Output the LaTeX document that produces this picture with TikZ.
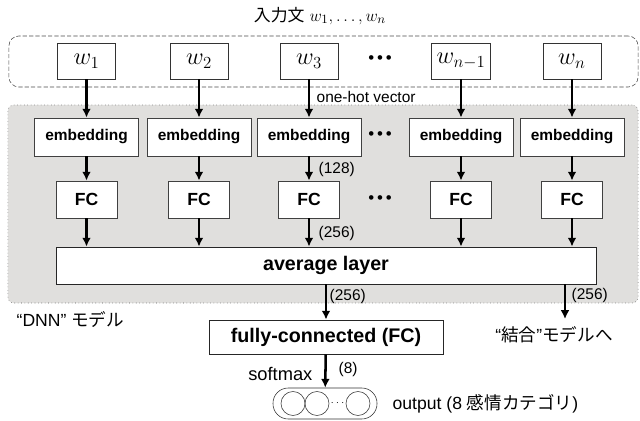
\documentclass[tikz,border=0pt]{standalone}
\usepackage{fontspec}
\setmainfont{Liberation Sans}
\newfontfamily\jpfont{Noto Sans CJK JP}
\usetikzlibrary{arrows.meta}

\definecolor{panelgray}{RGB}{224,223,221}

\begin{document}
\begin{tikzpicture}[
		x=0.025cm, y=-0.025cm,
		wordbox/.style={
			rectangle,
			draw=black!80,
			fill=white,
			semithick,
			minimum width=1.45cm,
			minimum height=0.9cm,
			font=\fontsize{17}{19}\selectfont
		},
		embbox/.style={
			rectangle,
			draw=black!75,
			fill=white,
			semithick,
			minimum width=2.6cm,
			minimum height=0.95cm,
			font=\bfseries\fontsize{11}{13}\selectfont
		},
		fcbox/.style={
			rectangle,
			draw=black!75,
			fill=white,
			semithick,
			minimum width=1.525cm,
			minimum height=0.925cm,
			font=\bfseries\fontsize{12.5}{14}\selectfont
		},
		layerbox/.style={
			rectangle,
			draw=black!85,
			fill=white,
			semithick,
			font=\bfseries\fontsize{14}{16}\selectfont
		},
		dims/.style={
			anchor=west,
			inner sep=1pt,
			font=\fontsize{11}{13}\selectfont
		},
		note/.style={
			inner sep=1pt,
			font=\fontsize{12.5}{14}\selectfont
		},
		unit/.style={
			circle,
			draw=black!80,
			minimum size=0.6cm,
			inner sep=0pt
		},
		arrow/.style={
			-{Latex[length=2.2mm,width=2.2mm]},
			line width=1.8pt
		}
		]
		
		% background frames
		\node[
		rectangle,
		draw=black!65,
		dotted,
		fill=panelgray,
		rounded corners=0.15cm,
		minimum width=15.75cm,
		minimum height=4.95cm
		] (dnn) at (323,204) {};
		
		\node[
		rectangle,
		draw=black!70,
		dash pattern=on 3pt off 1.5pt,
		fill=white,
		rounded corners=0.25cm,
		minimum width=15.725cm,
		minimum height=1.275cm
		] (inputs) at (323.5,61.5) {};
		
		\node[font=\fontsize{13}{15}\selectfont] (title) at (320,16) {{\jpfont\fontsize{12}{14}\selectfont 入力文} $w_1,\ldots,w_n$};
		
		% input words
		\node[wordbox] (w1) at (86.5,61) {$w_1$};
		\node[wordbox] (w2) at (199,61) {$w_2$};
		\node[wordbox] (w3) at (309,61) {$w_3$};
		\node[wordbox] (wn1) at (461,61) {$w_{n-1}$};
		\node[wordbox] (wn) at (572,61) {$w_n$};
		
		% embeddings
		\node[embbox] (emb1) at (86.5,137) {embedding};
		\node[embbox] (emb2) at (199,137) {embedding};
		\node[embbox] (emb3) at (309,137) {embedding};
		\node[embbox] (emb4) at (461,137) {embedding};
		\node[embbox] (emb5) at (572,137) {embedding};
		
		% per-word FC
		\node[fcbox] (fc1) at (86.5,199.5) {FC};
		\node[fcbox] (fc2) at (199,199.5) {FC};
		\node[fcbox] (fc3) at (309,199.5) {FC};
		\node[fcbox] (fc4) at (461,199.5) {FC};
		\node[fcbox] (fc5) at (572,199.5) {FC};
		
		\node[font=\fontsize{12}{14}\selectfont] (dotsw) at (380,60) {•\hspace{2pt}•\hspace{2pt}•};
		\node[font=\fontsize{12}{14}\selectfont] (dotse) at (380,136) {•\hspace{2pt}•\hspace{2pt}•};
		\node[font=\fontsize{12}{14}\selectfont] (dotsf) at (380,200) {•\hspace{2pt}•\hspace{2pt}•};
		
		\node[layerbox, minimum width=13.5cm, minimum height=0.925cm] (avg) at (326,265.5) {average layer};
		
		\node[layerbox, minimum width=5.85cm, minimum height=0.85cm] (fcout) at (326,337) {fully-connected (FC)};
		
		% output units
		\node[
		rectangle,
		draw=black!80,
		rounded corners=0.38cm,
		minimum width=2.6cm,
		minimum height=0.775cm
		] (out) at (325,403.5) {};
		\node[unit] (u1) at (293,403.5) {};
		\node[unit] (u2) at (317,403.5) {};
		\node[unit] (u3) at (358,403.5) {};
		\node[inner sep=0pt, font=\fontsize{7}{8}\selectfont] (udots) at (337.5,403) {$\cdots$};
		
		\coordinate (tojoint) at (565,319);
		
		% labels
		\node[dims] (onehot) at (315,97) {one-hot vector};
		\node[dims] (d128) at (317,169) {(128)};
		\node[dims] (d256) at (317,233) {(256)};
		\node[dims] (d256b) at (328,296) {(256)};
		\node[dims] (d256c) at (570,295) {(256)};
		\node[dims] (d8) at (337,369) {(8)};
		\node[note, anchor=east, font=\fontsize{13}{15}\selectfont] (softmax) at (314,374) {softmax};
		\node[note, anchor=west] (outlabel) at (391,404) {output (8 {\jpfont 感情カテゴリ})};
		\node[note, anchor=west] (dnnlabel) at (15,320) {“DNN” {\jpfont モデル}};
		\node[note] (jointlabel) at (554,335) {“{\jpfont 結合}”{\jpfont モデルへ}};
		
		% connectors
		\draw[arrow] (w1) -- (emb1);
		\draw[arrow] (w2) -- (emb2);
		\draw[arrow] (w3) -- (emb3);
		\draw[arrow] (wn1) -- (emb4);
		\draw[arrow] (wn) -- (emb5);
		
		\draw[arrow] (emb1) -- (fc1);
		\draw[arrow] (emb2) -- (fc2);
		\draw[arrow] (emb3) -- (fc3);
		\draw[arrow] (emb4) -- (fc4);
		\draw[arrow] (emb5) -- (fc5);
		
		\draw[arrow] (fc1) -- (fc1 |- avg.north);
		\draw[arrow] (fc2) -- (fc2 |- avg.north);
		\draw[arrow] (fc3) -- (fc3 |- avg.north);
		\draw[arrow] (fc4) -- (fc4 |- avg.north);
		\draw[arrow] (fc5) -- (fc5 |- avg.north);
		
		\draw[arrow] (avg) -- (fcout);
		\draw[arrow] (avg.south -| tojoint) -- (tojoint);
		\draw[arrow] (fcout) -- (out);
		
		\useasboundingbox (0,0) rectangle (640,421);
		
	\end{tikzpicture}
\end{document}
